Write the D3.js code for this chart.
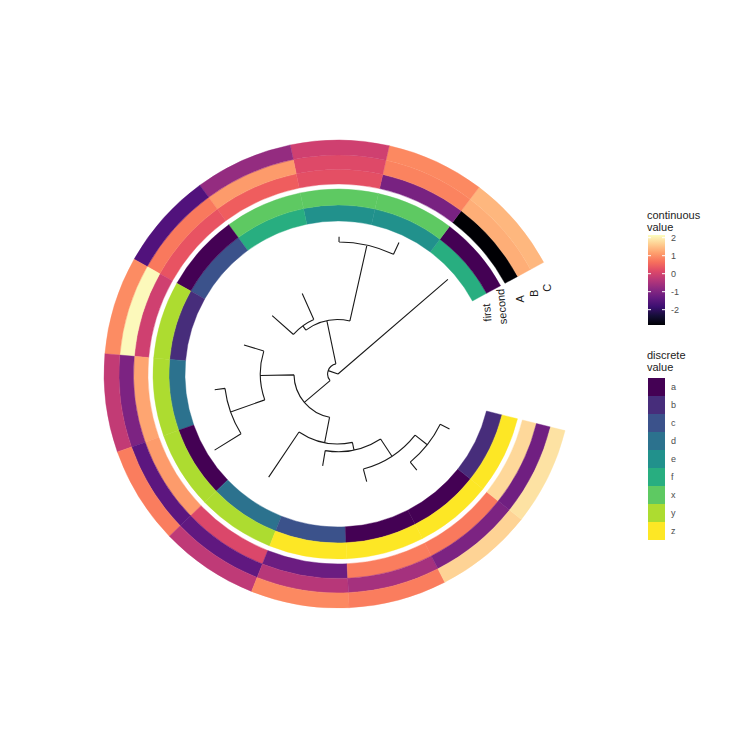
<!DOCTYPE html>
<html>
<head>
<meta charset="utf-8">
<script src="https://cdn.jsdelivr.net/npm/d3@7"></script>
<style>
body { margin: 0; background: #fff; }
text { font-family: "Liberation Sans", Arial, sans-serif; }
</style>
</head>
<body>
<div id="chart"></div>
<script>
// tree (sample.nwk), written in the order the tips are drawn
var newick = "(M:56,(((I:5,J:2):30,(K:11,L:11):2):17,((H:8,(F:4,G:12):14):13,(E:21,(D:6,(C:5,(A:4,B:4):6):8):3):10):13):4);";
var tips   = ["M","I","J","K","L","H","F","G","E","D","C","A","B"];

// heatmap columns, one value per tip (same order as tips)
var first  = ["f","e","e","f","c","b","d","a","d","c","a","a","b"];
var second = ["a","x","x","x","a","y","y","y","y","z","z","z","z"];
var colA   = [-2.85,-1.1,0.25,0.45,0.3,-0.05,1.2,1.1,0.1,-1.25,0.8,0.75,1.75];
var colB   = [1.3,0.85,0.15,1.1,0.75,2.1,-1.05,-1.45,-1.4,-0.35,-0.55,-1.05,-1.2];
var colC   = [1.4,0.9,-0.05,-0.75,-1.6,0.95,-0.2,0.8,-0.25,0.9,0.8,1.7,1.85];

var discreteLevels = ["a","b","c","d","e","f","x","y","z"];
var contTicks = [2,1,0,-1,-2];
var contRange = [-2.85, 2.15];

// layout
var width = 751, height = 751;
var cx = 338, cy = 374;
var svg = d3.select("#chart").append("svg")
            .attr("width", width)
            .attr("height", height);
var g = svg.append("g").attr("transform", "translate(" + cx + "," + cy + ")");

// simple newick reader
function parseNewick(s) {
  var i = 0;
  function node() {
    var n = {};
    if (s[i] === "(") {
      i++;
      n.children = [node()];
      while (s[i] === ",") { i++; n.children.push(node()); }
      i++;
    }
    var name = /^[^:,();]*/.exec(s.slice(i))[0];
    n.name = name; i += name.length;
    n.length = 0;
    if (s[i] === ":") {
      i++;
      var l = /^[0-9.eE+-]+/.exec(s.slice(i))[0];
      n.length = +l; i += l.length;
    }
    return n;
  }
  return node();
}

var root = d3.hierarchy(parseNewick(newick));
root.eachBefore(function(d){
  d.dist = d.parent ? d.parent.dist + d.data.length : 0;
});
root.eachAfter(function(d){
  if (d.children) d.pos = d3.mean(d.children, function(c){ return c.pos; });
  else d.pos = tips.indexOf(d.data.name);
});

var deg = Math.PI / 180;
var angle = d3.scaleLinear()
              .domain([-0.5, tips.length - 0.5])
              .range([61.5 * deg, -256 * deg]);
var radius = d3.scaleLinear()
               .domain([0, d3.max(root.leaves(), function(d){ return d.dist; })])
               .range([0, 145]);

function px(r, a) { return r * Math.sin(a); }
function py(r, a) { return -r * Math.cos(a); }

// tree branches: radial part + arc at each internal node
var treePath = d3.path();
root.descendants().forEach(function(d){
  var a = angle(d.pos);
  if (d.parent) {
    var r0 = radius(d.parent.dist), r1 = radius(d.dist);
    treePath.moveTo(px(r0, a), py(r0, a));
    treePath.lineTo(px(r1, a), py(r1, a));
  }
  if (d.children && d.dist > 0) {
    var r = radius(d.dist);
    var a0 = angle(d.children[0].pos), a1 = angle(d.children[d.children.length - 1].pos);
    treePath.moveTo(px(r, a0), py(r, a0));
    treePath.arc(0, 0, r, a0 - Math.PI / 2, a1 - Math.PI / 2, a1 < a0);
  }
});
g.append("path")
 .attr("d", treePath.toString())
 .attr("fill", "none")
 .attr("stroke", "#1a1a1a")
 .attr("stroke-width", 1.1);

// colour scales
var discColor = d3.scaleOrdinal()
                  .domain(discreteLevels)
                  .range(discreteLevels.map(function(d, i){ return d3.interpolateViridis(i / (discreteLevels.length - 1)); }));
var contColor = d3.scaleSequential(d3.interpolateMagma).domain(contRange);

// heatmap rings
var rings = [
  {name: "first",  vals: first,  inner: 153, outer: 169, color: discColor, rot: -95},
  {name: "second", vals: second, inner: 169, outer: 185, color: discColor, rot: -95},
  {name: "A",      vals: colA,   inner: 190, outer: 204.5, color: contColor, rot: -90},
  {name: "B",      vals: colB,   inner: 204.5, outer: 219, color: contColor, rot: -90},
  {name: "C",      vals: colC,   inner: 219, outer: 234, color: contColor, rot: -90}
];

var arc = d3.arc();
rings.forEach(function(ring){
  g.append("g").selectAll("path")
   .data(ring.vals)
   .enter()
   .append("path")
   .attr("d", function(d, i){
     return arc({innerRadius: ring.inner, outerRadius: ring.outer,
                 startAngle: angle(i - 0.5), endAngle: angle(i + 0.5)});
   })
   .attr("fill", function(d){ return ring.color(d); })
   .attr("stroke", function(d){ return ring.color(d); })
   .attr("stroke-width", 0.4);

  var a = angle(-0.75), r = (ring.inner + ring.outer) / 2;
  g.append("text")
   .text(ring.name)
   .attr("transform", "translate(" + px(r, a) + "," + py(r, a) + ") rotate(" + ring.rot + ")")
   .attr("text-anchor", "middle")
   .attr("dy", "0.35em")
   .attr("font-size", 11)
   .attr("fill", "#1a1a1a");
});

// continuous legend
var leg1 = svg.append("g").attr("transform", "translate(647,0)");
leg1.append("text").text("continuous").attr("x", 0).attr("y", 219).attr("font-size", 11).attr("fill", "#222");
leg1.append("text").text("value").attr("x", 0).attr("y", 231).attr("font-size", 11).attr("fill", "#222");
var barTop = 235, barBottom = 325;
var barScale = d3.scaleLinear().domain(contRange).range([barBottom, barTop]);
var grad = svg.append("defs").append("linearGradient")
              .attr("id", "magma").attr("x1", 0).attr("y1", 1).attr("x2", 0).attr("y2", 0);
d3.range(0, 1.0001, 0.1).forEach(function(t){
  grad.append("stop").attr("offset", t).attr("stop-color", d3.interpolateMagma(t));
});
leg1.append("rect")
    .attr("x", 1).attr("y", barTop)
    .attr("width", 17).attr("height", barBottom - barTop)
    .attr("fill", "url(#magma)");
leg1.selectAll("line.tick")
    .data(contTicks).enter()
    .append("line")
    .attr("x1", 1).attr("x2", 4)
    .attr("y1", function(d){ return barScale(d); })
    .attr("y2", function(d){ return barScale(d); })
    .attr("stroke", "#fff");
leg1.selectAll("line.tick2")
    .data(contTicks).enter()
    .append("line")
    .attr("x1", 15).attr("x2", 18)
    .attr("y1", function(d){ return barScale(d); })
    .attr("y2", function(d){ return barScale(d); })
    .attr("stroke", "#fff");
leg1.selectAll("text.lab")
    .data(contTicks).enter()
    .append("text")
    .text(function(d){ return d; })
    .attr("x", 24)
    .attr("y", function(d){ return barScale(d); })
    .attr("dy", "0.35em")
    .attr("font-size", 9)
    .attr("fill", "#4d4d4d");

// discrete legend
var leg2 = svg.append("g").attr("transform", "translate(647,0)");
leg2.append("text").text("discrete").attr("x", 0).attr("y", 359).attr("font-size", 11).attr("fill", "#222");
leg2.append("text").text("value").attr("x", 0).attr("y", 371).attr("font-size", 11).attr("fill", "#222");
var keyY = d3.scaleBand().domain(discreteLevels).range([378, 540]);
leg2.selectAll("rect")
    .data(discreteLevels).enter()
    .append("rect")
    .attr("x", 1)
    .attr("y", function(d){ return keyY(d); })
    .attr("width", 17)
    .attr("height", keyY.bandwidth())
    .attr("fill", function(d){ return discColor(d); });
leg2.selectAll("text.lab")
    .data(discreteLevels).enter()
    .append("text")
    .text(function(d){ return d; })
    .attr("x", 24)
    .attr("y", function(d){ return keyY(d) + keyY.bandwidth() / 2; })
    .attr("dy", "0.35em")
    .attr("font-size", 9)
    .attr("fill", "#4d4d4d");
</script>
</body>
</html>
